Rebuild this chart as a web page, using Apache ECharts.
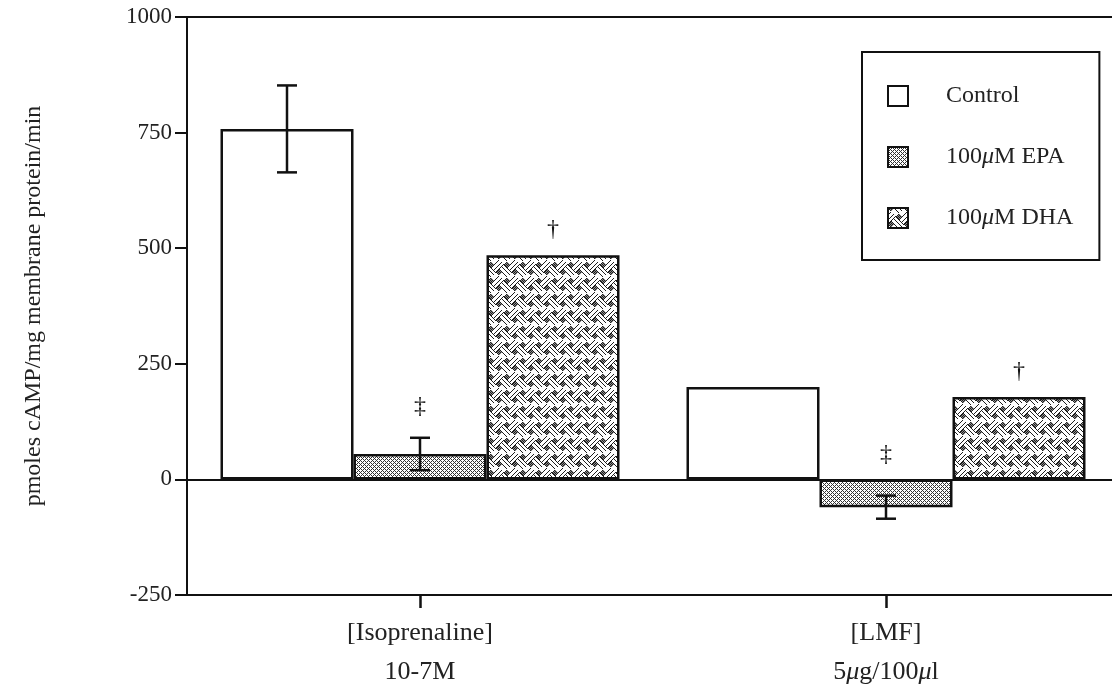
<!DOCTYPE html>
<html>
<head>
<meta charset="utf-8">
<script src="https://cdn.jsdelivr.net/npm/echarts@6/dist/echarts.min.js"></script>
<style>html,body{margin:0;padding:0;background:#fff}#c{width:1112px;height:692px}</style>
</head>
<body>
<div id="c"></div>
<script>
// ---- data ----
const categories = ['[Isoprenaline]\n10-7M', '[LMF]\n5{i|μ}g/100{i|μ}l'];
const seriesNames = ['Control', '100μM EPA', '100μM DHA'];
const controlVals = [758, 200];
const epaVals = [55, -60];
const dhaVals = [485, 178];
const controlErr = [94, 0];
const epaErr = [35, 25];
const dhaErr = [0, 0];
const controlSig = ['', ''];
const epaSig = ['‡', '‡'];
const dhaSig = ['†', '†'];
const sigAnchor = [[null, 158, 540], [null, 54, 233]];
const yTicks = [-250, 0, 250, 500, 750, 1000];

// ---- patterns ----
function makeEPA() {
  const c = document.createElement('canvas'); c.width = 4; c.height = 4;
  const g = c.getContext('2d');
  g.fillStyle = '#fff'; g.fillRect(0, 0, 4, 4);
  g.fillStyle = '#333';
  for (let x = 0; x < 4; x++) for (let y = 0; y < 4; y++) {
    if ((x + y) % 4 === 0 || ((x - y) + 8) % 4 === 0) g.fillRect(x, y, 1, 1);
  }
  return c;
}
function makeDHA() {
  const cs = 16, gs = 6, mid = 11, P = 2 * cs;
  const c = document.createElement('canvas'); c.width = P; c.height = P;
  const g = c.getContext('2d');
  const img = g.createImageData(P, P);
  for (let x = 0; x < P; x++) for (let y = 0; y < P; y++) {
    const u = x + y, v = x - y + 4 * P;
    const k = Math.floor(u / cs) + Math.floor(v / cs);
    const a = u % cs, b = v % cs;
    const t = (k % 2 === 0) ? b : a;
    let col = 255;
    if (a < gs && b < gs) col = ((x + y) % 2 === 0) ? 30 : 140;
    else if (t === gs || t === cs - 1 || t === mid) col = 30;
    const i = (y * P + x) * 4;
    img.data[i] = img.data[i + 1] = img.data[i + 2] = col; img.data[i + 3] = 255;
  }
  g.putImageData(img, 0, 0);
  return c;
}
const epaFill = { image: makeEPA(), repeat: 'repeat' };
const dhaFill = { image: makeDHA(), repeat: 'repeat' };

const BAR_W = 133;
const FONT = '"Liberation Serif", "DejaVu Serif", serif';
const lineColor = '#111';

const errRows = [];
[[controlVals, controlErr, controlSig], [epaVals, epaErr, epaSig], [dhaVals, dhaErr, dhaSig]].forEach((s, si) => {
  categories.forEach((_, ci) => {
    errRows.push([ci, si, s[0][ci], s[1][ci], s[2][ci], sigAnchor[ci][si]]);
  });
});

const chart = echarts.init(document.getElementById('c'), null, { renderer: 'canvas' });
const barCommon = {
  type: 'bar', barWidth: BAR_W, barGap: '0%',
  emphasis: { disabled: true }
};
chart.setOption({
  animation: false,
  backgroundColor: '#fff',
  textStyle: { fontFamily: FONT },
  grid: { left: 187, width: 932, top: 17, bottom: 97, outerBoundsMode: 'none', show: true, borderColor: lineColor, borderWidth: 2, backgroundColor: 'transparent' },
  legend: {
    orient: 'vertical', left: 862, top: 52,
    padding: [32, 26, 30, 25],
    itemWidth: 20, itemHeight: 20, itemGap: 37,
    icon: 'rect',
    borderColor: lineColor, borderWidth: 2,
    itemStyle: { borderColor: lineColor, borderWidth: 2 },
    textStyle: { fontFamily: FONT, fontSize: 24, color: '#222', lineHeight: 20, padding: [0, 0, 0, 33],
      rich: { i: { fontFamily: FONT, fontSize: 24, fontStyle: 'italic', color: '#222', lineHeight: 20 } } },
    formatter: n => n.replace('μ', '{i|μ}'),
    data: seriesNames
  },
  xAxis: {
    type: 'category', data: categories,
    axisLine: { show: true, onZero: false, lineStyle: { color: lineColor, width: 2 } },
    axisTick: { show: true, alignWithLabel: true, length: 13, lineStyle: { color: lineColor, width: 2.5 } },
    axisLabel: { margin: 19, fontFamily: FONT, fontSize: 26, color: '#222', lineHeight: 39,
      rich: { i: { fontFamily: FONT, fontSize: 26, fontStyle: 'italic', color: '#222', lineHeight: 39 } } },
    splitLine: { show: false }
  },
  yAxis: {
    type: 'value', min: -250, max: 1000, interval: 250,
    name: 'pmoles cAMP/mg membrane protein/min', nameLocation: 'middle', nameGap: 141,
    nameTextStyle: { fontFamily: FONT, fontSize: 24, color: '#222' },
    axisLine: { show: true, lineStyle: { color: lineColor, width: 2 } },
    axisTick: { show: true, length: 12, lineStyle: { color: lineColor, width: 2 } },
    axisLabel: { margin: 15, fontFamily: FONT, fontSize: 23, color: '#222',
      formatter: v => yTicks.includes(v) ? String(v) : '' },
    splitLine: { show: false }
  },
  series: [
    Object.assign({}, barCommon, { name: seriesNames[0], data: controlVals,
      itemStyle: { color: '#fff', borderColor: lineColor, borderWidth: 2.5 },
      markLine: { silent: true, symbol: 'none', label: { show: false },
        lineStyle: { color: lineColor, width: 2, type: 'solid' }, data: [{ yAxis: 0 }] } }),
    Object.assign({}, barCommon, { name: seriesNames[1], data: epaVals,
      itemStyle: { color: epaFill, borderColor: lineColor, borderWidth: 2.5 } }),
    Object.assign({}, barCommon, { name: seriesNames[2], data: dhaVals,
      itemStyle: { color: dhaFill, borderColor: lineColor, borderWidth: 2.5 } }),
    {
      type: 'custom', z: 10, silent: true, data: errRows,
      renderItem: function (params, api) {
        const ci = api.value(0), si = api.value(1), m = api.value(2), e = api.value(3);
        const center = api.coord([ci, 0])[0];
        const x = center + (si - 1) * BAR_W;
        const kids = [];
        if (e > 0) {
          const pt = api.coord([ci, m + e])[1], pb = api.coord([ci, m - e])[1];
          const st = { stroke: lineColor, lineWidth: 2.5 };
          kids.push({ type: 'line', shape: { x1: x, y1: pt, x2: x, y2: pb }, style: st });
          kids.push({ type: 'line', shape: { x1: x - 10, y1: pt, x2: x + 10, y2: pt }, style: st });
          kids.push({ type: 'line', shape: { x1: x - 10, y1: pb, x2: x + 10, y2: pb }, style: st });
        }
        const txt = errRows[params.dataIndex][4];
        const anc = errRows[params.dataIndex][5];
        if (txt && anc != null) {
          kids.push({ type: 'text', x: x, y: api.coord([ci, anc])[1],
            style: { text: txt, fill: '#111', font: '24px ' + FONT, textAlign: 'center', textVerticalAlign: 'middle' } });
        }
        return { type: 'group', children: kids };
      }
    }
  ]
});
</script>
</body>
</html>
